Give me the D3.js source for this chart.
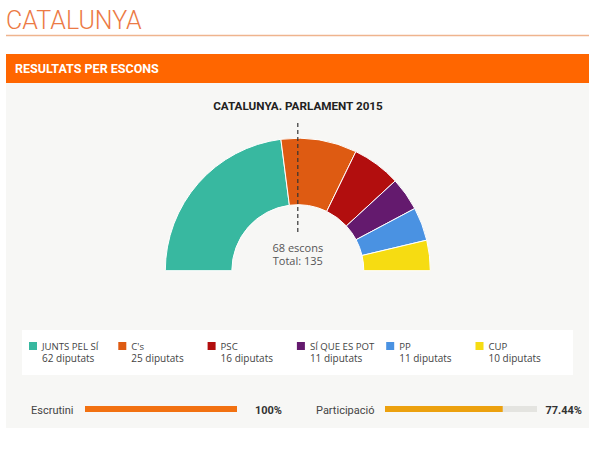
<!DOCTYPE html>
<html>
<head>
<meta charset="utf-8">
<script src="https://cdnjs.cloudflare.com/ajax/libs/d3/7.8.5/d3.min.js"></script>
<style>
  body { margin: 0; background: #fff; }
  svg { display: block; }
</style>
</head>
<body>
<div id="chart"></div>
<script>
const parties = ['JUNTS PEL SÍ', "C's", 'PSC', 'SÍ QUE ES POT', 'PP', 'CUP'];
const seats = [62, 25, 16, 11, 11, 10];
const colors = ['#38b8a0', '#de5b12', '#b20e0e', '#641a6e', '#4a92e2', '#f6dc12'];
const majority = 68;
const total = 135;
const progressLabels = ['Escrutini', 'Participació'];
const progressValues = [100, 77.44];
const progressColors = ['#f27111', '#eca10e'];

const width = 600, height = 455;

const svg = d3.select('#chart')
    .append('svg')
    .attr('width', width)
    .attr('height', height);

svg.append('rect').attr('width', width).attr('height', height).attr('fill', '#fff');

// page heading
svg.append('text')
    .attr('x', 6)
    .attr('y', 28.5)
    .attr('font-family', 'Roboto')
    .attr('font-weight', 300)
    .attr('font-size', 25)
    .attr('fill', '#ec7a45')
    .text('CATALUNYA');

svg.append('line')
    .attr('x1', 6).attr('x2', 589)
    .attr('y1', 35.5).attr('y2', 35.5)
    .attr('stroke', '#efb48e')
    .attr('stroke-width', 1.5);

// orange band
svg.append('rect')
    .attr('x', 6).attr('y', 54)
    .attr('width', 583).attr('height', 29)
    .attr('fill', '#ff6600');

svg.append('text')
    .attr('x', 15)
    .attr('y', 72.5)
    .attr('font-family', 'Roboto')
    .attr('font-weight', 700)
    .attr('font-size', 12.5)
    .attr('fill', '#fff')
    .text('RESULTATS PER ESCONS');

// panel
svg.append('rect')
    .attr('x', 6).attr('y', 83)
    .attr('width', 583).attr('height', 345)
    .attr('fill', '#f7f7f5');

svg.append('text')
    .attr('x', 298)
    .attr('y', 110)
    .attr('text-anchor', 'middle')
    .attr('font-family', 'Roboto')
    .attr('font-weight', 700)
    .attr('font-size', 11.7)
    .attr('fill', '#222')
    .text('CATALUNYA. PARLAMENT 2015');

// hemicycle
const cx = 297.8, cy = 270.7;
const pie = d3.pie()
    .sort(null)
    .startAngle(-Math.PI / 2)
    .endAngle(Math.PI / 2);
const arc = d3.arc().innerRadius(66).outerRadius(132.5);

const g = svg.append('g').attr('transform', `translate(${cx},${cy})`);

g.selectAll('path')
    .data(pie(seats))
    .enter()
    .append('path')
    .attr('d', arc)
    .attr('fill', (d, i) => colors[i])
    .attr('stroke', '#fff')
    .attr('stroke-width', 1);

g.append('line')
    .attr('x1', 0).attr('x2', 0)
    .attr('y1', 123 - cy).attr('y2', 233 - cy)
    .attr('stroke', '#333')
    .attr('stroke-width', 1.2)
    .attr('stroke-dasharray', '4,3');

g.append('text')
    .attr('y', 251.5 - cy)
    .attr('text-anchor', 'middle')
    .attr('font-family', 'Open Sans')
    .attr('font-size', 11)
    .attr('fill', '#555')
    .text(`${majority} escons`);

g.append('text')
    .attr('y', 265 - cy)
    .attr('text-anchor', 'middle')
    .attr('font-family', 'Open Sans')
    .attr('font-size', 11)
    .attr('fill', '#555')
    .text(`Total: ${total}`);

// legend
svg.append('rect')
    .attr('x', 22).attr('y', 330)
    .attr('width', 551).attr('height', 45)
    .attr('fill', '#fff');

const legendX = d3.scaleBand()
    .domain(parties)
    .range([29, 29 + 89.3 * parties.length]);

const item = svg.selectAll('.legend')
    .data(parties)
    .enter()
    .append('g')
    .attr('class', 'legend')
    .attr('transform', d => `translate(${legendX(d)},0)`);

item.append('rect')
    .attr('y', 342)
    .attr('width', 8).attr('height', 8)
    .attr('fill', (d, i) => colors[i]);

item.append('text')
    .attr('x', 13)
    .attr('y', 349.5)
    .attr('font-family', 'Open Sans')
    .attr('font-size', 9.6)
    .attr('fill', '#444')
    .text(d => d);

item.append('text')
    .attr('x', 13)
    .attr('y', 362)
    .attr('font-family', 'Open Sans')
    .attr('font-size', 10)
    .attr('fill', '#444')
    .text((d, i) => `${seats[i]} diputats`);

// progress bars
const barX = d3.scaleLinear().domain([0, 100]).range([0, 152]);
const blockX = [31, 316];
const barStart = [85, 385];
const valueX = [282, 582];

progressLabels.forEach((label, i) => {
    svg.append('text')
        .attr('x', blockX[i])
        .attr('y', 413.5)
        .attr('font-family', 'Roboto')
        .attr('font-size', 11)
        .attr('fill', '#444')
        .text(label);

    svg.append('rect')
        .attr('x', barStart[i]).attr('y', 406)
        .attr('width', barX(100)).attr('height', 6)
        .attr('fill', '#e4e4e0');

    svg.append('rect')
        .attr('x', barStart[i]).attr('y', 406)
        .attr('width', barX(progressValues[i])).attr('height', 6)
        .attr('fill', progressColors[i]);

    svg.append('text')
        .attr('x', valueX[i])
        .attr('y', 413.5)
        .attr('text-anchor', 'end')
        .attr('font-family', 'Roboto')
        .attr('font-weight', 700)
        .attr('font-size', 11)
        .attr('fill', '#333')
        .text(d3.format('.4~')(progressValues[i]) + '%');
});
</script>
</body>
</html>
